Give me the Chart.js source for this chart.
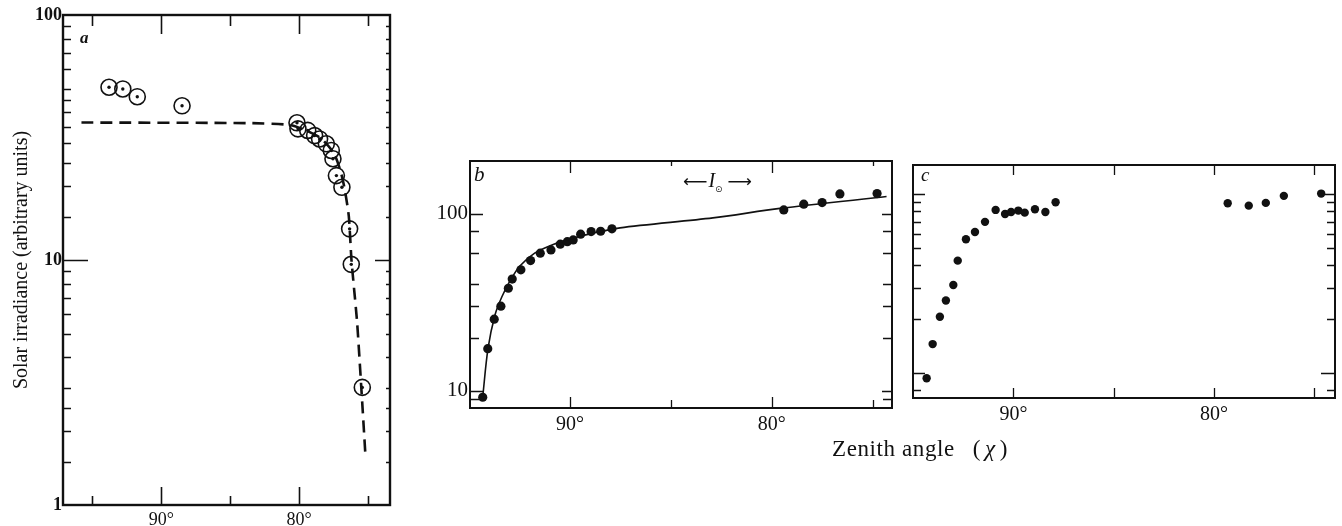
<!DOCTYPE html>
<html><head><meta charset="utf-8">
<script src="https://cdn.jsdelivr.net/npm/chart.js@4"></script>
<style>
html,body{margin:0;padding:0;background:#fff}
body{width:1342px;height:526px;overflow:hidden;position:relative;font-family:"Liberation Serif",serif;color:#111}
canvas{position:absolute;display:block}
.t{position:absolute;white-space:nowrap;line-height:1;font-family:"Liberation Serif",serif;color:#111}
</style></head><body>
<canvas id="ca" width="400" height="526" style="left:0;top:0"></canvas>
<canvas id="cb" width="490" height="300" style="left:410px;top:140px"></canvas>
<canvas id="cc" width="442" height="300" style="left:900px;top:140px"></canvas>

<div class="t" style="left:80px;top:29px;font-size:17px;font-style:italic;font-weight:bold">a</div>
<div class="t" style="left:474px;top:164px;font-size:21px;font-style:italic">b</div>
<div class="t" style="left:921px;top:165px;font-size:19px;font-style:italic">c</div>
<div class="t" style="left:683px;top:170px;font-size:20px"><span style="font-family:'DejaVu Sans';font-size:17px">⟵</span><span style="font-style:italic;margin-left:1px">I</span><sub style="font-size:9px;font-family:'DejaVu Sans'">⊙</sub><span style="font-family:'DejaVu Sans';font-size:17px;margin-left:5px">⟶</span></div>
<div class="t" style="left:832px;top:437px;font-size:23px;letter-spacing:0.6px">Zenith angle<span style="margin-left:18px">(</span><span style="font-style:italic;margin-left:4px">χ</span><span style="margin-left:4px">)</span></div>

<script>
// ---------- panel a ----------
const aAngles = [93.8, 92.8, 91.75, 88.5, 80.16, 80.09, 79.38, 78.88, 78.52, 78.03, 77.67, 77.55, 77.3, 76.9, 76.34, 76.22, 75.42];
const aIrr    = [50.7, 49.9, 46.4, 42.6, 36.3, 34.3, 33.8, 32.2, 31.2, 29.8, 28.0, 25.9, 22.1, 19.8, 13.4, 9.6, 3.02];
const aFitAngles = [95.8, 83.6, 80.7, 79.6, 78.46, 77.5, 77.0, 76.7, 76.4, 76.2, 75.8, 75.5, 75.2];
const aFitIrr    = [36.4, 36.2, 35.6, 34.0, 31.5, 27.4, 23.1, 19.5, 15.1, 9.9, 5.6, 3.06, 1.62];
const aXTicks = [95, 90, 85, 80, 75];
const aXMajor = [90, 80];
const aXLabels = [90, 80];
const aYTicks = [1.5, 2, 2.5, 3, 4, 5, 6, 7, 8, 9, 10, 15, 20, 25, 30, 35, 40, 45, 50, 60, 70, 80, 90];
const aYMajor = [10];
const aYLabels = [1, 10, 100];

// ---------- panel b ----------
const bAngles = [94.32, 94.07, 93.75, 93.42, 93.05, 92.86, 92.43, 91.95, 91.47, 90.94, 90.48, 90.13, 89.84, 89.47, 88.95, 88.48, 87.92, 79.41, 78.42, 77.51, 76.63, 74.79];
const bIrr    = [9.2, 17.3, 25.4, 30.1, 38.0, 42.8, 48.3, 54.5, 60.0, 62.6, 67.4, 69.7, 71.3, 76.8, 79.4, 79.8, 82.3, 105.3, 113.4, 115.8, 129.7, 130.2];
const bFitAngles = [94.32, 94.06, 93.71, 93.37, 92.97, 92.48, 91.73, 90.89, 90.0, 89.01, 87.52, 82.92, 79.6, 74.32];
const bFitIrr    = [9.25, 17.3, 26.9, 34.0, 41.8, 50.8, 60.2, 66.8, 72.2, 77.1, 83.4, 94.9, 107.4, 125.3];
const bXTicks = [90, 85, 80, 75];
const bXMajor = [90, 80];
const bXLabels = [90, 80];
const bYTicks = [9, 10, 20, 30, 40, 60, 80, 100];
const bYMajor = [10, 100];
const bYLabels = [10, 100];

// ---------- panel c ----------
const cAngles = [94.33, 94.03, 93.67, 93.37, 93.0, 92.78, 92.37, 91.92, 91.42, 90.89, 90.42, 90.12, 89.76, 89.44, 88.93, 88.41, 87.9, 79.32, 78.27, 77.42, 76.52, 74.66];
const cIrr    = [9.34, 14.5, 20.6, 25.4, 31.0, 42.4, 55.8, 61.3, 69.8, 81.4, 77.3, 79.3, 80.7, 78.6, 82.1, 79.3, 89.9, 88.7, 86.0, 89.1, 97.5, 100.4];
const cXTicks = [90, 85, 80, 75];
const cXMajor = [90, 80];
const cXLabels = [90, 80];
const cYTicks = [8, 10, 20, 30, 40, 50, 60, 70, 80, 90, 100];
const cYMajor = [10, 100];

const INK = '#111';
const pts = (xs, ys) => xs.map((v, i) => ({x: v, y: ys[i]}));

const frameTicks = {
  id: 'frameTicks',
  afterDraw(chart, args, o) {
    const {ctx, chartArea: a, scales: {x, y}} = chart;
    ctx.save();
    ctx.strokeStyle = INK;
    ctx.lineWidth = o.tickWidth;
    ctx.beginPath();
    o.xTicks.forEach(v => {
      const p = Math.round(x.getPixelForValue(v)) + 0.5;
      const m = o.xMajor.includes(v);
      ctx.moveTo(p, a.bottom); ctx.lineTo(p, a.bottom - (m ? o.len.bMaj : o.len.bMin));
      ctx.moveTo(p, a.top); ctx.lineTo(p, a.top + (m ? o.len.tMaj : o.len.tMin));
    });
    o.yTicks.forEach(v => {
      const p = Math.round(y.getPixelForValue(v)) + 0.5;
      const m = o.yMajor.includes(v);
      ctx.moveTo(a.left, p); ctx.lineTo(a.left + (m ? o.len.lMaj : o.len.lMin), p);
      ctx.moveTo(a.right, p); ctx.lineTo(a.right - (m ? o.len.rMaj : o.len.rMin), p);
    });
    ctx.stroke();
    ctx.lineWidth = o.frameWidth;
    ctx.strokeRect(a.left, a.top, a.width, a.height);
    ctx.restore();
  }
};

function makeScales(cfg) {
  return {
    x: {
      type: 'linear', reverse: true, min: cfg.xmin, max: cfg.xmax,
      grid: {display: false, drawTicks: false}, border: {display: false},
      afterBuildTicks: s => { s.ticks = cfg.xLabels.map(v => ({value: v})); },
      afterFit: s => { s.height = cfg.xh; },
      ticks: {color: INK, padding: cfg.xpad, font: cfg.xfont, maxRotation: 0, autoSkip: false,
              callback: v => v + '°'}
    },
    y: {
      type: 'logarithmic', min: cfg.ymin, max: cfg.ymax,
      grid: {display: false, drawTicks: false}, border: {display: false},
      afterBuildTicks: s => { s.ticks = cfg.yLabels.map(v => ({value: v})); },
      afterFit: s => { s.width = cfg.yw; },
      ticks: {display: cfg.yLabels.length > 0, color: INK, padding: cfg.ypad || 2, font: cfg.yfont, autoSkip: false,
              callback: v => String(v)},
      title: cfg.ytitle || {display: false}
    }
  };
}

const common = {
  responsive: false, animation: false, devicePixelRatio: 1,
  plugins: {legend: {display: false}, tooltip: {enabled: false}}
};

// panel a
new Chart(document.getElementById('ca'), {
  type: 'scatter',
  data: {datasets: [
    {data: pts(aFitAngles, aFitIrr), showLine: true, pointRadius: 0, borderColor: INK, borderWidth: 2.6, borderDash: [12, 7], tension: 0.2, clip: false},
    {data: pts(aAngles, aIrr), pointRadius: 8, pointBorderWidth: 1.6, pointBorderColor: INK, pointBackgroundColor: 'rgba(255,255,255,0)', clip: false},
    {data: pts(aAngles, aIrr), pointRadius: 1.7, pointBorderWidth: 0, pointBackgroundColor: INK, clip: false}
  ]},
  options: Object.assign({}, common, {
    layout: {padding: {left: 0, top: 15, right: 10, bottom: 0}},
    scales: makeScales({xmin: 73.41, xmax: 97.14, xLabels: aXLabels, xh: 21, xpad: 4,
      xfont: {family: 'Liberation Serif', size: 18},
      ymin: 1, ymax: 100, yLabels: aYLabels, yw: 63, ypad: 1,
      yfont: {family: 'Liberation Serif', size: 18, weight: 'bold'},
      ytitle: {display: true, text: 'Solar irradiance (arbitrary units)', color: INK,
               font: {family: 'Liberation Serif', size: 20}, padding: {top: 10, bottom: 0}}}),
    plugins: Object.assign({}, common.plugins, {
      frameTicks: {xTicks: aXTicks, xMajor: aXMajor, yTicks: aYTicks, yMajor: aYMajor,
        tickWidth: 1.6, frameWidth: 2.4,
        len: {bMaj: 18, bMin: 9, tMaj: 19, tMin: 11, lMaj: 25, lMin: 8, rMaj: 15, rMin: 4}}
    })
  }),
  plugins: [frameTicks]
});

// panel b
new Chart(document.getElementById('cb'), {
  type: 'scatter',
  data: {datasets: [
    {data: pts(bFitAngles, bFitIrr), showLine: true, pointRadius: 0, borderColor: INK, borderWidth: 1.6, tension: 0.3, clip: false},
    {data: pts(bAngles, bIrr), pointRadius: 4.6, pointBorderWidth: 0, pointBackgroundColor: INK, clip: false}
  ]},
  options: Object.assign({}, common, {
    layout: {padding: {left: 0, top: 21, right: 8, bottom: 0}},
    scales: makeScales({xmin: 74.05, xmax: 94.95, xLabels: bXLabels, xh: 32, xpad: 5,
      xfont: {family: 'Liberation Serif', size: 20},
      ymin: 8, ymax: 199, yLabels: bYLabels, yw: 60,
      yfont: {family: 'Liberation Serif', size: 21}}),
    plugins: Object.assign({}, common.plugins, {
      frameTicks: {xTicks: bXTicks, xMajor: bXMajor, yTicks: bYTicks, yMajor: bYMajor,
        tickWidth: 1.3, frameWidth: 2,
        len: {bMaj: 11, bMin: 8, tMaj: 12, tMin: 5, lMaj: 13, lMin: 9, rMaj: 10, rMin: 9}}
    })
  }),
  plugins: [frameTicks]
});

// panel c
new Chart(document.getElementById('cc'), {
  type: 'scatter',
  data: {datasets: [
    {data: pts(cAngles, cIrr), pointRadius: 4.2, pointBorderWidth: 0, pointBackgroundColor: INK, clip: false}
  ]},
  options: Object.assign({}, common, {
    layout: {padding: {left: 0, top: 25, right: 7, bottom: 0}},
    scales: makeScales({xmin: 73.97, xmax: 95.01, xLabels: cXLabels, xh: 42, xpad: 5,
      xfont: {family: 'Liberation Serif', size: 20},
      ymin: 7.25, ymax: 145, yLabels: [], yw: 13,
      yfont: {family: 'Liberation Serif', size: 20}}),
    plugins: Object.assign({}, common.plugins, {
      frameTicks: {xTicks: cXTicks, xMajor: cXMajor, yTicks: cYTicks, yMajor: cYMajor,
        tickWidth: 1.3, frameWidth: 2,
        len: {bMaj: 10, bMin: 10, tMaj: 10, tMin: 10, lMaj: 12, lMin: 8, rMaj: 14, rMin: 8}}
    })
  }),
  plugins: [frameTicks]
});
</script>
</body></html>
